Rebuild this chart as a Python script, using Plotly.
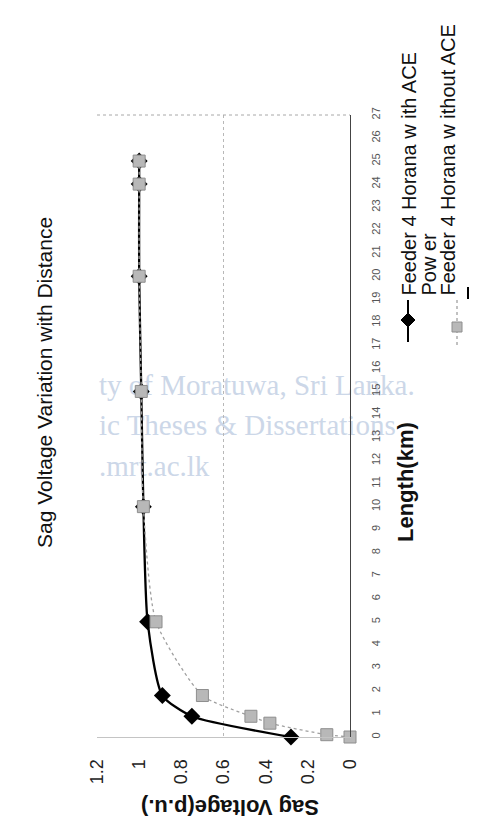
import plotly.graph_objects as go

# Sag voltage (p.u.) against distance along Feeder 4 Horana (km)
len_ace = [0, 0.9, 1.8, 5, 10, 15, 20, 24, 25]
sag_ace = [0.28, 0.75, 0.89, 0.96, 0.98, 0.99, 1.0, 1.0, 1.0]

len_no_ace = [0, 0.1, 0.6, 0.9, 1.8, 5, 10, 15, 20, 24, 25]
sag_no_ace = [0.0, 0.11, 0.38, 0.47, 0.70, 0.92, 0.98, 0.99, 1.0, 1.0, 1.0]

volt_ticks = [0, 0.2, 0.4, 0.6, 0.8, 1, 1.2]
volt_labels = ["0", "0.2", "0.4", "0.6", "0.8", "1", "1.2"]
km_ticks = list(range(0, 28))

series_names = ["Feeder 4 Horana w ith ACE", "Feeder 4 Horana w ithout ACE"]
title_text = "Sag Voltage Variation with Distance"
x_title = "Length(km)"
y_title = "Sag Voltage(p.u.)"
watermark = ["ty of Moratuwa, Sri Lanka.", "ic Theses & Dissertations", ".mrt.ac.lk"]

W, H = 478, 826
PL, PR, PT, PB = 97, 128, 115, 89
PW, PH = W - PL - PR, H - PT - PB
FONT = "Liberation Sans, Arial, sans-serif"


def fx(px):
    return (px - PL) / PW


def fy(py):
    return (PT + PH - py) / PH


fig = go.Figure()

# The sheet is turned a quarter turn: distance runs up the page,
# voltage runs right-to-left along the bottom.
fig.add_trace(go.Scatter(
    x=sag_ace, y=len_ace, name=series_names[0], mode="lines+markers",
    line=dict(color="#000000", width=2.3, shape="spline", smoothing=0.6),
    marker=dict(symbol="diamond", size=13, color="#000000"),
    cliponaxis=False,
))
fig.add_trace(go.Scatter(
    x=sag_no_ace, y=len_no_ace, name=series_names[1], mode="lines+markers",
    line=dict(color="#a0a0a0", width=1.3, dash="dot", shape="spline", smoothing=0.6),
    marker=dict(symbol="square", size=12, color="#b8b8b8",
                line=dict(color="#8e8e8e", width=1)),
    cliponaxis=False,
))

fig.update_xaxes(
    range=[1.2, 0], tickvals=volt_ticks, ticktext=volt_labels,
    tickangle=-90, tickfont=dict(family=FONT, size=18, color="#222"),
    ticks="", showgrid=False, zeroline=False,
    showline=True, linecolor="#c4c4c4", linewidth=1,
    ticklabelstandoff=14,
    minor=dict(tick0=0, dtick=0.6, showgrid=True, gridcolor="#b8b8b8",
               griddash="dot", gridwidth=1, ticks=""),
)
fig.update_yaxes(
    range=[0, 27], side="right", tickvals=km_ticks,
    tickangle=-90, tickfont=dict(family=FONT, size=11, color="#555"),
    ticks="", showgrid=False, zeroline=False,
    showline=True, linecolor="#444", linewidth=1,
    ticklabelstandoff=16,
)

shapes = [
    # dotted top edge of the plot area
    dict(type="line", xref="paper", yref="paper", x0=0, x1=1, y0=1, y1=1,
         line=dict(color="#a8a8a8", width=1, dash="dot")),
    # legend key: with ACE
    dict(type="line", xref="paper", yref="paper",
         x0=fx(408), x1=fx(408), y0=fy(300), y1=fy(342),
         line=dict(color="#000000", width=2)),
    dict(type="path", xref="paper", yref="paper", fillcolor="#000000",
         line=dict(color="#000000", width=1),
         path=f"M {fx(401)},{fy(320)} L {fx(408)},{fy(313)} L {fx(415)},{fy(320)} "
              f"L {fx(408)},{fy(327)} Z"),
    # legend key: without ACE
    dict(type="line", xref="paper", yref="paper",
         x0=fx(457), x1=fx(457), y0=fy(300), y1=fy(348),
         line=dict(color="#a0a0a0", width=1.3, dash="dot")),
    dict(type="rect", xref="paper", yref="paper",
         x0=fx(452), x1=fx(462), y0=fy(322), y1=fy(332),
         fillcolor="#b8b8b8", line=dict(color="#8e8e8e", width=1)),
    # clipped start of the next legend row
    dict(type="line", xref="paper", yref="paper",
         x0=fx(468), x1=fx(468), y0=fy(287), y1=fy(299),
         line=dict(color="#000000", width=2)),
]

# faint repository watermark behind the chart
for text, cy in zip(watermark, [382, 422, 463]):
    shapes.append(dict(
        type="rect", xref="paper", yref="paper", layer="below",
        x0=fx(96), x1=fx(470), y0=fy(cy + 18), y1=fy(cy - 18),
        line=dict(width=0), fillcolor="rgba(0,0,0,0)",
        label=dict(text=text, textposition="middle left", padding=0,
                   font=dict(family="Liberation Serif, serif", size=29,
                             color="rgb(204,215,232)")),
    ))

annotations = [
    dict(text=title_text, x=fx(44), y=fy(383), textangle=-90,
         font=dict(family=FONT, size=21, color="#111")),
    dict(text=f"<b>{x_title}</b>", x=fx(405), y=fy(482), textangle=-90,
         font=dict(family=FONT, size=22, color="#111")),
    dict(text=f"<b>{y_title}</b>", x=fx(230), y=fy(808), textangle=180,
         font=dict(family=FONT, size=22, color="#111")),
    dict(text=series_names[0], x=fx(408), y=fy(298), yanchor="bottom",
         textangle=-90, font=dict(family=FONT, size=20, color="#111")),
    dict(text="Pow er", x=fx(428), y=fy(298), yanchor="bottom",
         textangle=-90, font=dict(family=FONT, size=20, color="#111")),
    dict(text=series_names[1], x=fx(447), y=fy(298), yanchor="bottom",
         textangle=-90, font=dict(family=FONT, size=20, color="#111")),
]
for a in annotations:
    a.update(xref="paper", yref="paper", showarrow=False)
    a.setdefault("xanchor", "center")
    a.setdefault("yanchor", "middle")

fig.update_layout(
    width=W, height=H,
    margin=dict(l=PL, r=PR, t=PT, b=PB, pad=0),
    paper_bgcolor="#ffffff", plot_bgcolor="#ffffff",
    showlegend=False,
    shapes=shapes, annotations=annotations,
    font=dict(family=FONT),
)

fig.write_html("out.html")
